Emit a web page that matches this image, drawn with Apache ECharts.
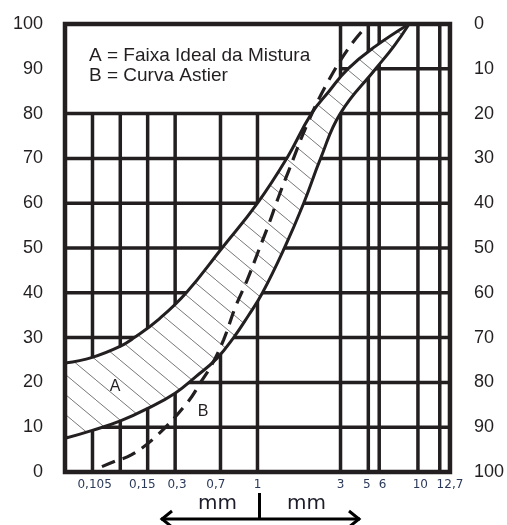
<!DOCTYPE html>
<html><head><meta charset="utf-8">
<script src="https://cdn.jsdelivr.net/npm/echarts@6/dist/echarts.min.js"></script>
<style>html,body{margin:0;padding:0;background:#fff}#c{width:507px;height:525px}</style>
</head><body><div id="c"></div>
<script>
// Schematic (non-uniform) sieve scale: positions in % of chart width
const sieveLinePos = [7.14, 14.36, 21.47, 28.61, 40.39, 50.0, 71.57, 78.79, 81.62, 91.68, 97.35];
const legendBoxRight = 71.57;
const passingLevels = [10, 20, 30, 40, 50, 60, 70, 80, 90];
const sieveLabels = ['0,105', '0,15', '0,3', '0,7', '1', '3', '5', '6', '10', '12,7'];
const sieveLabelPos = [7.7, 20.1, 29.1, 39.2, 50, 71.6, 78.4, 82.5, 92.3, 100];

// A = Faixa Ideal da Mistura (upper and lower limits), [position, % passing]
const upperLimitA = [[0, 24.3], [7.1, 25.6], [14.2, 28.0], [18.0, 30], [24.5, 34.2], [31.5, 40], [40.8, 50], [50.0, 60], [57.6, 70], [64.0, 80], [68.6, 85], [73.5, 90], [80.6, 95], [89.4, 100]];
const lowerLimitA = [[0, 7.5], [7.1, 9.3], [14.4, 11.4], [21.5, 14.2], [28.6, 17.6], [34.0, 21.3], [39.4, 25.3], [43.8, 30], [47.7, 35], [51.3, 40], [57.0, 50], [62.0, 60], [66.4, 70], [71.5, 80], [80.7, 90], [85.4, 95], [89.4, 100]];
// B = Curva Astier
const astierCurveB = [[9.6, 1.2], [13.0, 2.4], [17.2, 3.8], [23.6, 7.9], [31.7, 15.4], [35.6, 20.5], [38.1, 23.9], [41.2, 29.5], [44.3, 36.9], [47.4, 43], [50.1, 49], [52.8, 55], [55.3, 61], [58.0, 67], [63.1, 78], [68.3, 87.1], [73.9, 94.9], [78.8, 100]];

const INK = '#231f20';

function makeHatch() {
  const c = document.createElement('canvas'); c.width = 24; c.height = 20;
  const g = c.getContext('2d');
  g.fillStyle = '#ffffff'; g.fillRect(0, 0, 24, 20);
  g.strokeStyle = '#777777'; g.lineWidth = 1;
  g.beginPath(); g.moveTo(-24, -20); g.lineTo(48, 40); g.stroke();
  return c;
}
const hatch = makeHatch();

const gridSegments = [];
sieveLinePos.forEach(p => gridSegments.push([p, 0, p, p < legendBoxRight - 0.01 ? 80 : 100]));
passingLevels.forEach(v => gridSegments.push(v === 90 ? [legendBoxRight, v, 100, v] : [0, v, 100, v]));

const chart = echarts.init(document.getElementById('c'), null, { renderer: 'canvas' });
chart.setOption({
  animation: false,
  backgroundColor: '#fff',
  grid: { left: 65, right: 54, top: 24, bottom: 53 },
  xAxis: {
    type: 'value', min: 0, max: 100,
    axisLine: { show: false }, axisTick: { show: false }, splitLine: { show: false },
    axisLabel: {
      customValues: sieveLabelPos,
      formatter: v => { const i = sieveLabelPos.findIndex(p => Math.abs(p - v) < 1e-6); return i >= 0 ? sieveLabels[i] : ''; },
      fontFamily: 'DejaVu Sans', fontSize: 12, color: '#2c3a5a', margin: 7
    }
  },
  yAxis: [{
    type: 'value', min: 0, max: 100, interval: 10, position: 'left',
    axisLine: { show: false }, axisTick: { show: false }, splitLine: { show: false },
    axisLabel: { fontFamily: 'Liberation Sans', fontSize: 18, color: INK, margin: 22, padding: [0, 0, 12, 0] }
  }, {
    type: 'value', min: 0, max: 100, interval: 10, position: 'right', inverse: true,
    axisLine: { show: false }, axisTick: { show: false }, splitLine: { show: false },
    axisLabel: { fontFamily: 'Liberation Sans', fontSize: 18, color: INK, margin: 24, padding: [0, 0, 8, 0] }
  }],
  series: [{
    type: 'custom', name: 'grid', z: 1, silent: true,
    data: gridSegments,
    renderItem: function (params, api) {
      const a = api.coord([api.value(0), api.value(1)]);
      const b = api.coord([api.value(2), api.value(3)]);
      return { type: 'line', shape: { x1: a[0], y1: a[1], x2: b[0], y2: b[1] }, style: { stroke: INK, lineWidth: 3.5 } };
    }
  }, {
    type: 'custom', name: 'A', z: 2, silent: true,
    data: [[50, 50]],
    renderItem: function (params, api) {
      const up = upperLimitA.map(d => api.coord(d));
      const lo = lowerLimitA.map(d => api.coord(d));
      const lead = [up[0][0] - 8, up[0][1]];
      const tail = [lo[0][0] - 8, lo[0][1]];
      const poly = [lead].concat(up, lo.slice(0, -1).reverse(), [tail]);
      const cs = params.coordSys;
      return { type: 'group',
        clipPath: { type: 'rect', shape: { x: cs.x, y: cs.y - 6, width: cs.width, height: cs.height + 6 } },
        children: [
        { type: 'polygon', shape: { points: poly, smooth: 0.45 }, style: { fill: { image: hatch, repeat: 'repeat' }, stroke: null } },
        { type: 'polyline', shape: { points: up, smooth: 0.45 }, style: { stroke: INK, lineWidth: 3, fill: null } },
        { type: 'polyline', shape: { points: lo, smooth: 0.45 }, style: { stroke: INK, lineWidth: 3, fill: null } }
      ] };
    }
  }, {
    type: 'line', name: 'B', z: 3, silent: true,
    data: astierCurveB, smooth: 0.4, showSymbol: false,
    lineStyle: { color: INK, width: 3.2, type: [14, 8] }
  }, {
    type: 'custom', name: 'frame', z: 4, silent: true,
    data: [[50, 50]],
    renderItem: function (params, api) {
      const a = api.coord([0, 100]);
      const b = api.coord([100, 0]);
      return { type: 'rect', shape: { x: a[0], y: a[1], width: b[0] - a[0], height: b[1] - a[1] }, style: { stroke: INK, lineWidth: 4.5, fill: null } };
    }
  }],
  graphic: [
    { type: 'text', z: 100, left: 89, top: 46, style: { text: 'A = Faixa Ideal da Mistura', font: '19px "Liberation Sans"', fill: INK } },
    { type: 'text', z: 100, left: 89, top: 66, style: { text: 'B = Curva Astier', font: '19px "Liberation Sans"', fill: INK } },
    { type: 'text', z: 100, x: 115, y: 387, style: { text: 'A', font: '16px "Liberation Sans"', fill: INK, align: 'center', verticalAlign: 'middle' } },
    { type: 'text', z: 100, x: 203, y: 412, style: { text: 'B', font: '16px "Liberation Sans"', fill: INK, align: 'center', verticalAlign: 'middle' } },
    { type: 'text', z: 100, x: 198, y: 504, style: { text: 'mm', font: '20px "DejaVu Sans"', fill: '#1c1c2a', verticalAlign: 'middle' } },
    { type: 'text', z: 100, x: 287, y: 504, style: { text: 'mm', font: '20px "DejaVu Sans"', fill: '#1c1c2a', verticalAlign: 'middle' } },
    { type: 'polyline', z: 100, shape: { points: [[161, 519], [360, 519]] }, style: { stroke: '#000', lineWidth: 3, fill: null } },
    { type: 'polyline', z: 100, shape: { points: [[259.5, 493], [259.5, 519]] }, style: { stroke: '#000', lineWidth: 3, fill: null } },
    { type: 'polyline', z: 100, shape: { points: [[172, 511], [162, 519], [172, 527]] }, style: { stroke: '#000', lineWidth: 3, fill: null } },
    { type: 'polyline', z: 100, shape: { points: [[349, 511], [359, 519], [349, 527]] }, style: { stroke: '#000', lineWidth: 3, fill: null } }
  ]
});
</script></body></html>
